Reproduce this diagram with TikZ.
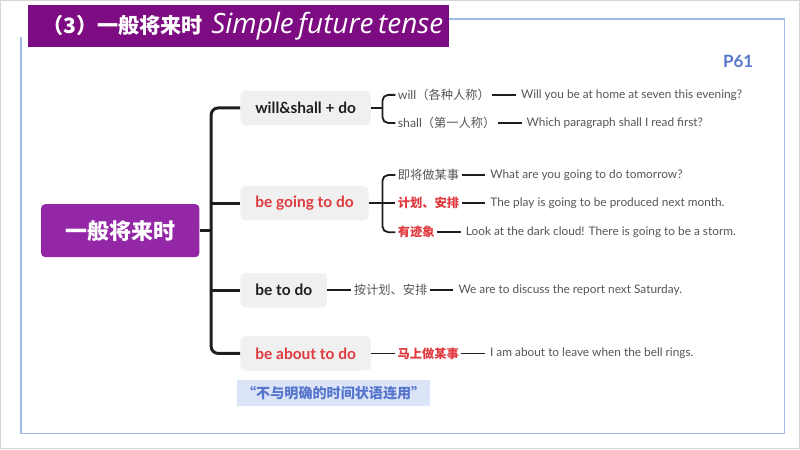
\documentclass[tikz,border=0pt]{standalone}
\usepackage{fontspec}
\setmainfont{Lato}
\newfontfamily\cjk{Noto Sans CJK SC}
\newfontfamily\titlefont{Open Sans}
\usetikzlibrary{positioning}
\definecolor{cTitle}{HTML}{7D0B82}
\definecolor{cRoot}{HTML}{9327A6}
\definecolor{cBox}{HTML}{F0F0F0}
\definecolor{cRed}{HTML}{E0393E}
\definecolor{cInk}{HTML}{1E1E1E}
\definecolor{cGray}{HTML}{555555}
\definecolor{cFrame}{HTML}{A3B8EB}
\definecolor{cBlue}{HTML}{5675CC}
\definecolor{cNote}{HTML}{DCE4F7}
\definecolor{cEdge}{HTML}{D6D6D6}
\tikzset{
  lab/.style={font=\cjk\fontsize{8.7}{10}\selectfont, text=cGray,
    inner xsep=1.5pt, inner ysep=1pt},
  keylab/.style={lab, font=\cjk\fontsize{8.7}{10}\selectfont\bfseries, text=cRed},
  sent/.style={font=\fontsize{8.4}{10}\selectfont, text=cGray,
    inner xsep=1.5pt, inner ysep=1pt},
}

\begin{document}
\begin{tikzpicture}[
  x=0.025cm, y=-0.025cm,
  node distance=0.66cm,
  titlebox/.style={rectangle, fill=cTitle, text=white, minimum width=10.5cm,
    minimum height=1.05cm, text width=9.8cm, inner xsep=0.35cm, align=left,
    anchor=north west},
  rootbox/.style={rectangle, rounded corners=3pt, fill=cRoot, text=white,
    minimum width=3.95cm, minimum height=1.325cm, anchor=west,
    font=\cjk\fontsize{15.6}{18}\selectfont\bfseries},
  branch/.style={rectangle, rounded corners=3.5pt, fill=cBox, text=cInk,
    minimum height=0.86cm, inner xsep=0.37cm, anchor=west,
    font=\fontsize{11}{13}\selectfont\bfseries},
  redbranch/.style={branch, text=cRed},
  note/.style={rectangle, fill=cNote, text=cBlue, minimum width=4.775cm,
    minimum height=0.65cm, anchor=north west,
    font=\cjk\fontsize{10}{12}\selectfont\bfseries},
  trunk/.style={line width=2.1pt, cInk, rounded corners=5pt},
  sub/.style={line width=1.3pt, cInk, rounded corners=4pt},
  dashline/.style={line width=1.3pt, cInk, shorten >=2pt},
]
% page and frame
\draw[cEdge, line width=1pt] (1,1) rectangle (798,448);
\draw[cFrame, line width=1.1pt] (448,19) -- (783,19) -- (783,433)
  -- (21,433) -- (21,37);
\node[titlebox] (title) at (28,5) {\mbox{{\cjk\fontsize{15}{20}\selectfont\bfseries
  （3）一般将来时}\hspace{6pt}{\titlefont\fontsize{19.8}{22}\selectfont\itshape
  Simple future tense}}};
\node[font=\fontsize{12}{14}\selectfont\bfseries, text=cBlue] (page)
  at (737,62) {P61};
% root and branches
\node[rootbox] (root) at (41,230.5) {一般将来时};
\node[branch] (willnode) at (240,108) {will\&shall + do};
\node[redbranch] (goingnode) at (240,203) {be going to do};
\node[branch] (tonode) at (240,290) {be to do};
\node[redbranch] (aboutnode) at (240,353) {be about to do};
% will & shall
\node[lab, anchor=west] (willA) at (395,95) {\fontspec{Lato}will\cjk（各种人称）};
\node[lab, anchor=west] (willB) at (395,123) {\fontspec{Lato}shall\cjk（第一人称）};
\node[sent, right=of willA] (sWillA) {Will you be at home at seven this evening?};
\node[sent, right=of willB] (sWillB) {Which paragraph shall I read first?};
% be going to
\node[lab, anchor=west] (goingA) at (395,175) {即将做某事};
\node[keylab, anchor=west] (goingB) at (395,203) {计划、安排};
\node[keylab, anchor=west] (goingC) at (395,232) {有迹象};
\node[sent, right=of goingA] (sGoingA) {What are you going to do tomorrow?};
\node[sent, right=of goingB] (sGoingB) {The play is going to be produced next month.};
\node[sent, right=of goingC] (sGoingC) {Look at the dark cloud! There is going to be a storm.};
% be to / be about to
\node[lab, right=0.6cm of tonode] (toA) {按计划、安排};
\node[sent, right=of toA] (sToA) {We are to discuss the report next Saturday.};
\node[keylab, right=0.6cm of aboutnode] (aboutA) {马上做某事};
\node[sent, right=of aboutA] (sAboutA) {I am about to leave when the bell rings.};
\node[note] (hint) at (237,379) {“不与明确的时间状语连用”};
% connectors
\coordinate (tk) at (211,230.5);
\coordinate (wb) at (382,108);
\coordinate (gb) at (382,203);
\draw[trunk] (willnode.west) -| (tk) |- (aboutnode.west);
\draw[trunk] (root.east) -- (tk);
\draw[trunk] (goingnode.west) -- (goingnode.west -| tk);
\draw[trunk] (tonode.west) -- (tonode.west -| tk);
\draw[sub] (willnode.east) -- (wb);
\draw[sub] (willA.west) -| (wb) |- (willB.west);
\draw[sub] (goingnode.east) -- (goingB.west);
\draw[sub] (goingA.west) -| (gb) |- (goingC.west);
\draw[sub] (tonode.east) -- (toA.west);
\draw[sub] (aboutnode.east) -- (aboutA.west);
\foreach \a/\b in {willA/sWillA, willB/sWillB, goingA/sGoingA, goingB/sGoingB,
  goingC/sGoingC, toA/sToA, aboutA/sAboutA}
  \draw[dashline] (\a.east) -- (\b.west);
\end{tikzpicture}
\end{document}
